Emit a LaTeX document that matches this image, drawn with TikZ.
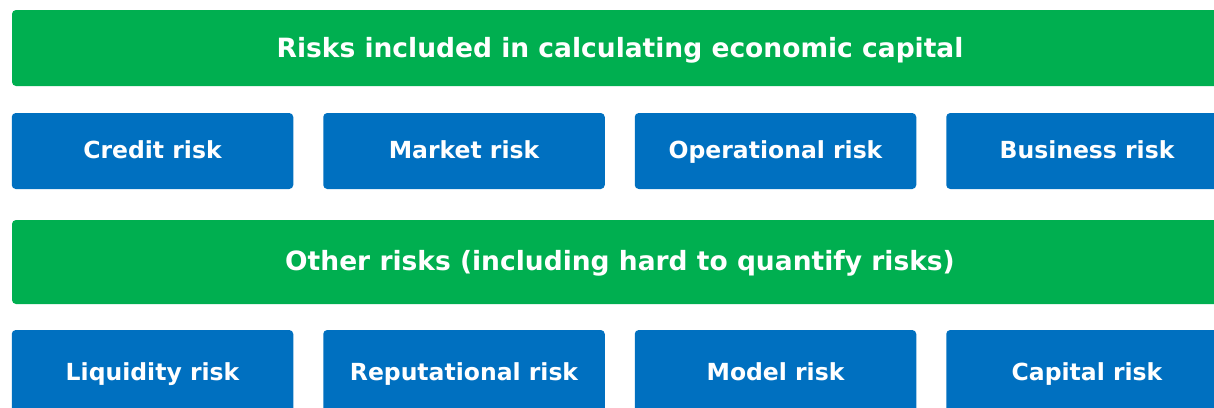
\documentclass[tikz,border=0pt]{standalone}
\usepackage{fontspec}
\setmainfont{DejaVu Sans}
\definecolor{bandgreen}{HTML}{00AF50}
\definecolor{tileblue}{HTML}{0070C0}
\begin{document}
\begin{tikzpicture}[x=1pt,y=-1pt,
  band/.style={fill=bandgreen, rounded corners=4pt, text=white,
    font=\fontsize{26.5}{30}\selectfont\bfseries, inner sep=0pt,
    minimum width=1216pt, text depth=4pt},
  tile/.style={fill=tileblue, rounded corners=4pt, text=white,
    font=\fontsize{23.5}{28}\selectfont\bfseries, inner sep=0pt,
    minimum width=281.5pt, text depth=4pt}]
  \useasboundingbox (0,0) rectangle (1214,407);
  \clip (0,0) rectangle (1214,407);
  % top band and the risks it covers
  \node[band, minimum height=76pt, text height=22pt] (econ) at (620,48) {Risks included in calculating economic capital};
  \tikzset{row1/.style={tile, minimum height=76pt, text height=18pt}}
  \node[row1] (credit) at (152.5,151) {Credit risk};
  \node[row1] (market) at (464,151) {Market risk};
  \node[row1] (oper) at (775.5,151) {Operational risk};
  \node[row1] (business) at (1087,151) {Business risk};
  % lower band and the remaining risks
  \node[band, minimum height=84pt, text height=21pt] (other) at (620,262) {Other risks (including hard to quantify risks)};
  \tikzset{row2/.style={tile, minimum height=84pt, text height=20pt}}
  \node[row2] (liquidity) at (152.5,372) {Liquidity risk};
  \node[row2] (reput) at (464,372) {Reputational risk};
  \node[row2] (model) at (775.5,372) {Model risk};
  \node[row2] (capital) at (1087,372) {Capital risk};
\end{tikzpicture}
\end{document}
